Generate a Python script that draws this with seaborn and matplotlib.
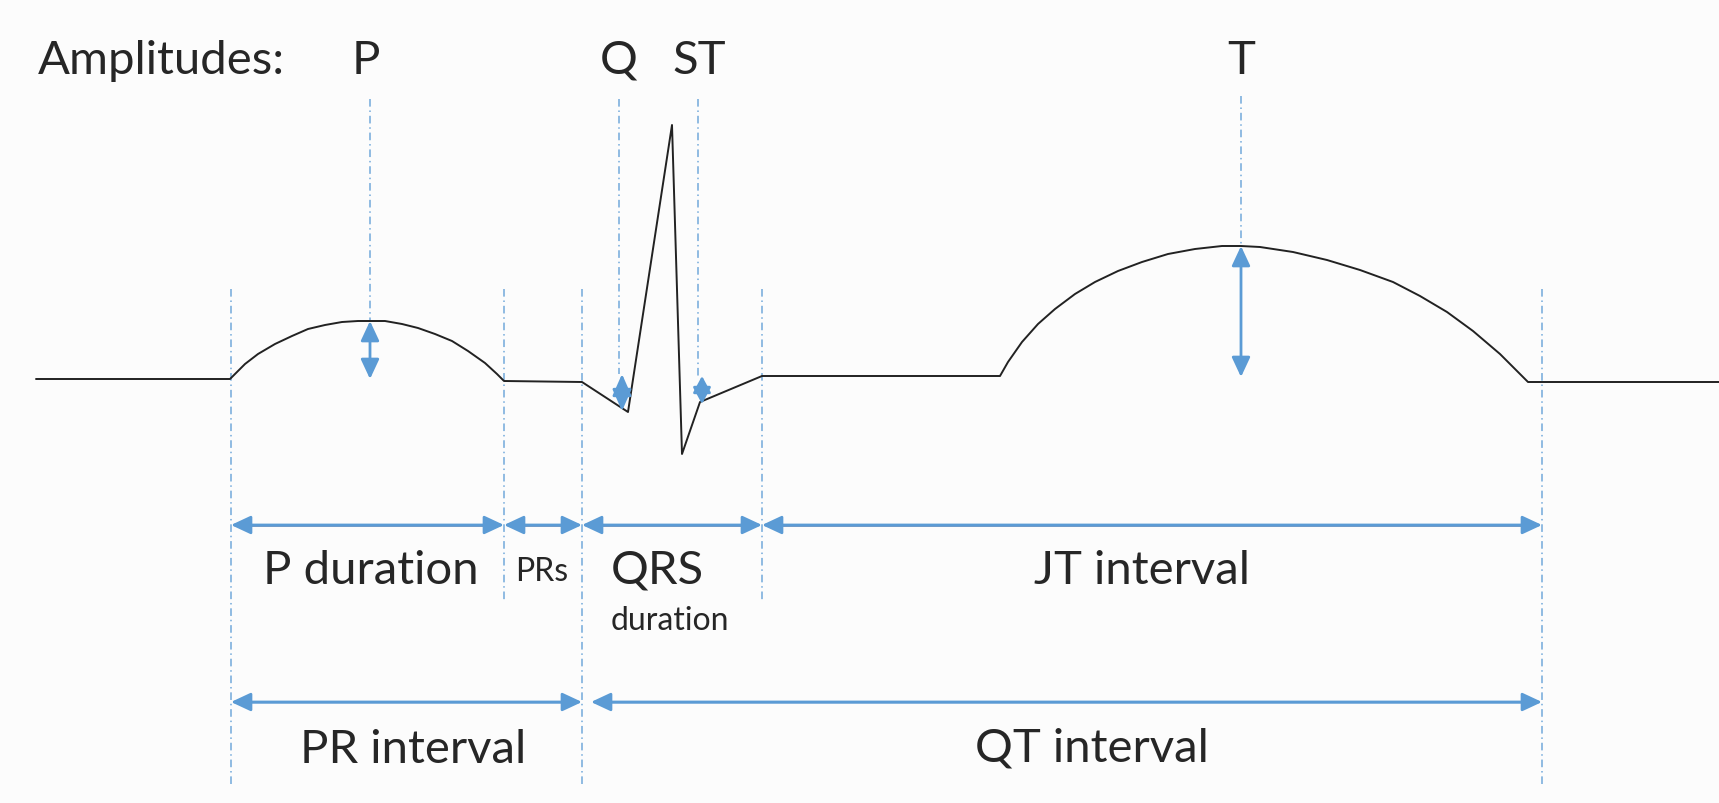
import numpy as np
import pandas as pd
import matplotlib
matplotlib.use('Agg')
import matplotlib.pyplot as plt
import seaborn as sns

# ECG trace (pixel coords, y grows downward)
trace_x = [36, 230, 245, 258, 275, 292, 308, 325, 342, 358, 370, 385, 402,
           418, 435, 452, 468, 485, 497, 504,
           582, 628, 672, 682, 700, 762, 1000,
           1008, 1022, 1038, 1055, 1075, 1095, 1118, 1142, 1168, 1195, 1222,
           1241, 1260, 1293, 1327, 1360, 1393, 1420, 1447, 1473, 1500, 1517,
           1528, 1719]
trace_y = [380, 380, 365, 355, 345, 337, 330, 326, 323, 322, 322, 322, 325,
           329, 335, 342, 352, 364, 375, 382,
           383, 413, 126, 455, 403, 377, 377,
           363, 343, 325, 310, 295, 283, 272, 263, 255, 250, 247,
           247, 248, 253, 261, 271, 283, 297, 313, 332, 355, 372,
           383, 383]

# vertical guides: x, top, bottom
guide_x = [231, 504, 582, 762, 1542, 370, 619, 698, 1241]
guide_top = [290, 290, 290, 290, 290, 100, 100, 100, 97]
guide_bottom = [787, 601, 787, 601, 787, 321, 375, 377, 247]

# amplitude arrows: x, top, bottom, head length / width
amp_x = [370, 622, 702, 1241]
amp_top = [322, 375, 377, 247]
amp_bottom = [380, 412, 405, 378]
amp_head_len = [0.6, 0.66, 0.5, 0.6]
amp_head_w = [0.28, 0.29, 0.27, 0.28]

# amplitude labels
amp_labels = ['P', 'Q', 'ST', 'T']
amp_label_x = [366, 619, 699, 1241]

# interval arrows
row1_start = [231, 504, 582, 762]
row1_end = [504, 582, 762, 1542]
row2_start = [231, 591]
row2_end = [582, 1542]

BLUE = '#5b9bd5'
BG = '#fcfcfc'

sns.set_style('white')
plt.rcParams['font.family'] = ['Lato', 'DejaVu Sans']

fig = plt.figure(figsize=(17.19, 8.04), dpi=100, facecolor=BG)
ax = fig.add_axes([0, 0, 1, 1])
ax.set_facecolor(BG)

# guides
for x, t, b in zip(guide_x, guide_top, guide_bottom):
    ax.plot([x, x], [t, b], color=BLUE, lw=1.1, alpha=0.85,
            linestyle=(0, (5, 2.5, 1, 2.5)))

# trace
df = pd.DataFrame({'x': trace_x, 'y': trace_y})
sns.lineplot(data=df, x='x', y='y', sort=False, estimator=None,
             color='#222222', lw=1.4, ax=ax)
ax.set_xlim(0, 1719)
ax.set_ylim(804, 0)
ax.axis('off')


def double_arrow(x0, y0, x1, y1, shaft_color=None, lw=2, hl=0.6, hw=0.28):
    style = f'<|-|>,head_length={hl},head_width={hw}'
    ax.annotate('', xy=(x1, y1), xytext=(x0, y0),
                arrowprops=dict(arrowstyle=style, color=BLUE, lw=lw,
                                shrinkA=0, shrinkB=0, mutation_scale=20))
    if shaft_color is not None:
        ax.plot([x0 + 17, x1 - 17], [y0, y1], color=shaft_color, lw=lw,
                solid_capstyle='butt')


for x, t, b, hl, hw in zip(amp_x, amp_top, amp_bottom, amp_head_len, amp_head_w):
    double_arrow(x, b, x, t, hl=hl, hw=hw)

for s, e in zip(row1_start, row1_end):
    double_arrow(s, 526, e, 526, '#6f90bb')
for s, e in zip(row2_start, row2_end):
    double_arrow(s, 703, e, 703, '#9cc0e4')

# text
big = 34
small = 23
ax.text(38, 74, 'Amplitudes:', fontsize=big, va='baseline', ha='left')
for lab, x in zip(amp_labels, amp_label_x):
    ax.text(x, 74, lab, fontsize=big, va='baseline', ha='center')

ax.text(371, 584, 'P duration', fontsize=big, va='baseline', ha='center')
ax.text(542, 581, 'PRs', fontsize=small, va='baseline', ha='center')
ax.text(611, 584, 'QRS', fontsize=big, va='baseline', ha='left')
ax.text(611, 630, 'duration', fontsize=small, va='baseline', ha='left')
ax.text(1142, 584, 'JT interval', fontsize=big, va='baseline', ha='center')
ax.text(413, 763, 'PR interval', fontsize=big, va='baseline', ha='center')
ax.text(1092, 762, 'QT interval', fontsize=big, va='baseline', ha='center')

plt.savefig('out.png', dpi=100, facecolor=BG)
plt.close()
